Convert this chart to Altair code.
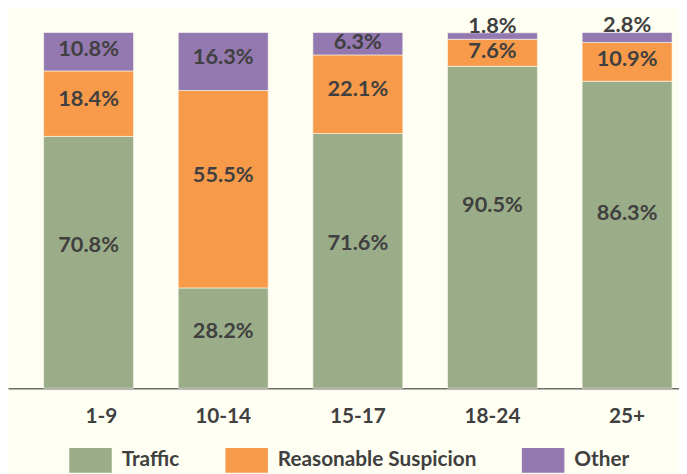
import altair as alt
import pandas as pd

ages = ["1-9", "10-14", "15-17", "18-24", "25+"]
categories = ["Traffic", "Reasonable Suspicion", "Other"]
traffic = [70.8, 28.2, 71.6, 90.5, 86.3]
suspicion = [18.4, 55.5, 22.1, 7.6, 10.9]
other = [10.8, 16.3, 6.3, 1.8, 2.8]
colors = ["#9BAD88", "#F79A4A", "#9379B0"]

rows = []
for i, a in enumerate(ages):
    for j, (cat, vals) in enumerate(zip(categories, [traffic, suspicion, other])):
        rows.append({"age": a, "cat": cat, "idx": j, "value": vals[i],
                     "label": f"{vals[i]:.1f}%"})
df = pd.DataFrame(rows)

FONT = "Lato"
TXT = "#404040"
BG = "#FEFEF2"

x_enc = alt.X("age:N", sort=ages, title=None,
              scale=alt.Scale(paddingInner=0.332, paddingOuter=0.158, align=0.837),
              axis=alt.Axis(labelFont=FONT, labelFontSize=21, labelFontWeight="bold",
                            labelColor=TXT, ticks=False, domainColor="#6E6E6E",
                            domainWidth=1.5, labelPadding=18, labelAngle=0,
                            labelOffset={"condition": {"test": "datum.value == '1-9'", "value": 13},
                                         "value": 0}))
y_scale = alt.Scale(domain=[0, 100], nice=False, zero=True)

base = alt.Chart(df).transform_stack(
    stack="value", groupby=["age"], sort=[alt.SortField("idx", order="ascending")],
    as_=["v0", "v1"]
)

bars = base.mark_bar(stroke=BG, strokeWidth=0.6).encode(
    x=x_enc,
    y=alt.Y("v0:Q", scale=y_scale, axis=None),
    y2="v1:Q",
    color=alt.Color("cat:N", sort=categories,
                    scale=alt.Scale(domain=categories, range=colors),
                    legend=alt.Legend(title=None, orient="none", direction="horizontal",
                                      columns=3, legendX=62, legendY=411,
                                      symbolType="M-1,-0.5814L1,-0.5814L1,0.5814L-1,0.5814Z",
                                      symbolSize=1849, symbolStrokeWidth=0,
                                      symbolOpacity=1, labelFont=FONT,
                                      labelFontSize=21, labelFontWeight="bold",
                                      labelColor=TXT, labelOffset=10, labelLimit=400,
                                      columnPadding=46, padding=0)),
)

inside = base.transform_filter("datum.value >= 4").transform_calculate(
    ly="datum.v0 + 0.57 * (datum.v1 - datum.v0)"
).mark_text(font=FONT, fontSize=22, fontWeight="bold", color=TXT, baseline="middle").encode(
    x=alt.X("age:N", sort=ages),
    y=alt.Y("ly:Q", scale=y_scale),
    text="label:N",
)

above = base.transform_filter("datum.value < 4").mark_text(
    font=FONT, fontSize=22, fontWeight="bold", color=TXT, baseline="alphabetic", dy=0
).encode(
    x=alt.X("age:N", sort=ages),
    y=alt.Y("v1:Q", scale=y_scale),
    text="label:N",
)

chart = alt.layer(bars, inside, above).properties(
    width=679, height=360,
    autosize=alt.AutoSizeParams(type="none"),
    padding={"left": 0, "top": 22, "right": 0, "bottom": 84},
    background=BG,
).configure_view(stroke=None)

chart.save("out.html", embed_options={"renderer": "svg", "actions": False})
